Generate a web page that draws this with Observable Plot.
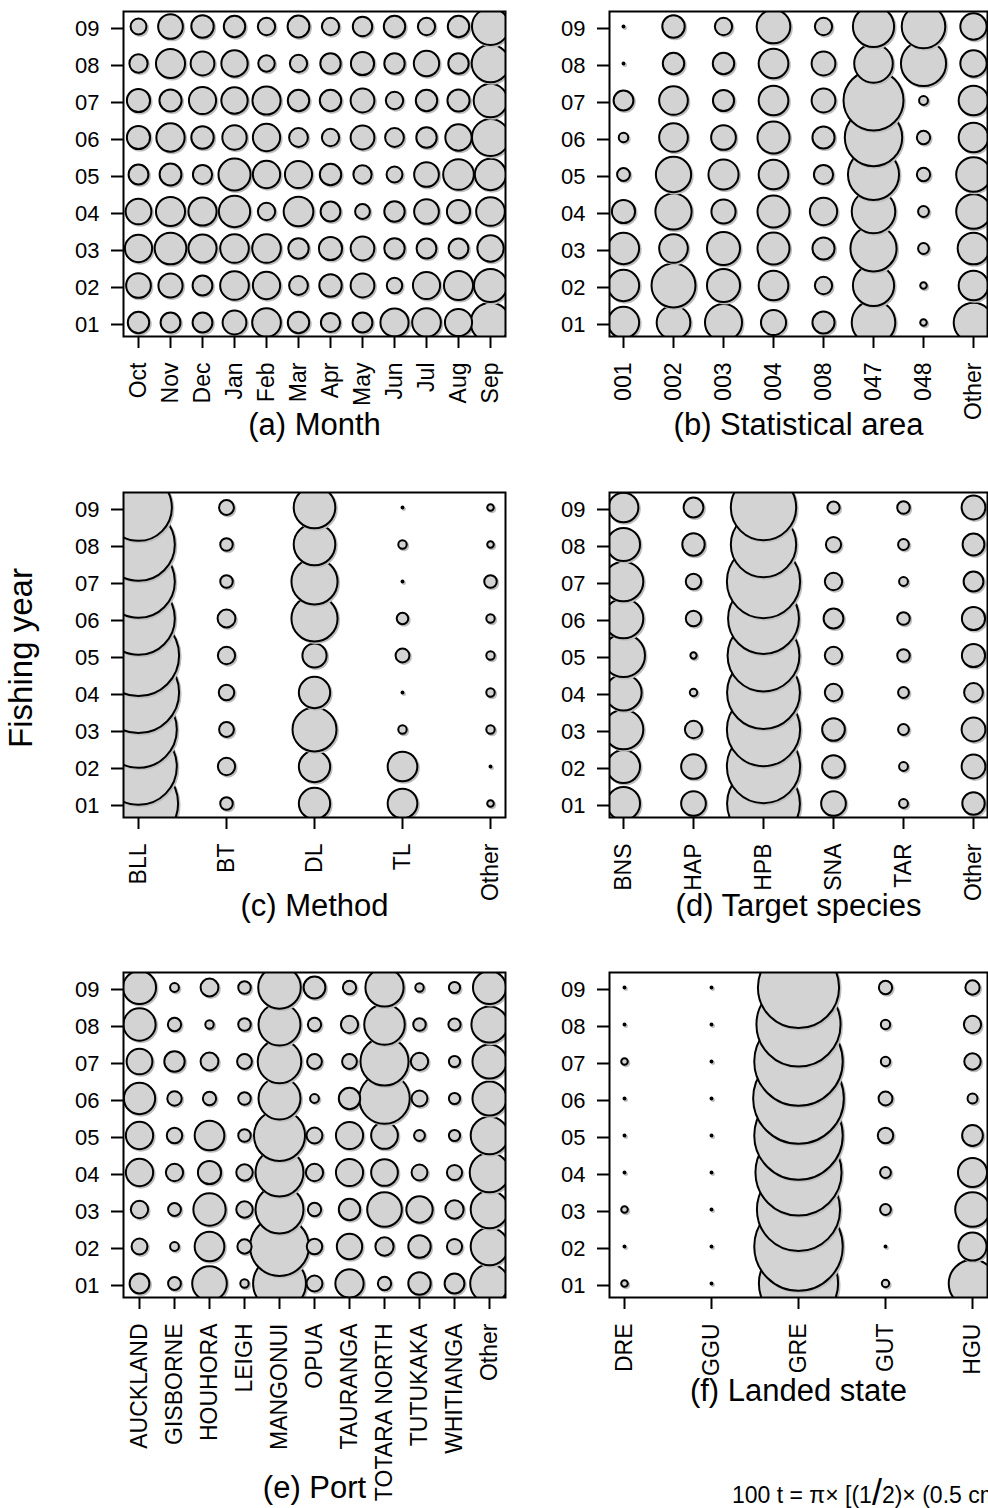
<!DOCTYPE html>
<html>
<head>
<meta charset="utf-8">
<script src="https://cdn.jsdelivr.net/npm/d3@7"></script>
<script src="https://cdn.jsdelivr.net/npm/@observablehq/plot@0.6"></script>
<style>
  html, body { margin: 0; padding: 0; background: #fff; }
  body { width: 988px; height: 1508px; overflow: hidden; position: relative; font-family: "Liberation Sans", Arial, sans-serif; }
  .panel { position: absolute; }
  #overlay { position: absolute; left: 0; top: 0; pointer-events: none; }
</style>
</head>
<body>
<script>
// Fishing years (y axis, bottom to top)
const years = ["01","02","03","04","05","06","07","08","09"];

// (a) Month — catch by month, one row per month, values for years 01..09
const months = ["Oct","Nov","Dec","Jan","Feb","Mar","Apr","May","Jun","Jul","Aug","Sep"];
const monthCatch = [
  [117,156,190,169,100,137,137,85,64],
  [100,149,256,216,121,204,125,216,156],
  [100,100,202,202,94,128,188,144,128],
  [144,210,210,250,262,151,177,177,117],
  [210,190,210,77,190,190,202,69,77],
  [117,90,106,225,188,90,117,76,121],
  [94,128,137,100,117,76,117,106,76],
  [100,144,144,56,85,144,144,137,96],
  [202,61,106,106,64,90,77,106,117],
  [210,188,100,156,156,106,117,164,76],
  [188,216,100,137,240,177,125,106,117],
  [400,279,177,210,250,350,289,361,350]
];

// (b) Statistical area
const areas = ["001","002","003","004","008","047","048","Other"];
const areaCatch = [
  [250,250,250,137,42,23,100,1,1],
  [289,493,210,335,317,210,210,117,128],
  [350,279,279,149,231,156,114,117,76],
  [161,225,262,262,225,262,225,225,289],
  [125,76,125,190,94,125,144,144,76],
  [484,433,543,484,666,841,918,380,433],
  [11,11,30,30,45,45,20,520,484],
  [400,225,256,306,306,225,225,177,177]
];

// (c) Method
const methods = ["BLL","BT","DL","TL","Other"];
const methodCatch = [
  [1600,1498,1498,1681,1681,1347,1347,1347,1136],
  [40,76,56,61,76,81,40,40,56],
  [250,250,493,250,149,543,543,441,441],
  [225,225,18,1,49,34,1,18,1],
  [11,1,18,18,18,18,40,11,11]
];

// (d) Target species
const targets = ["BNS","HAP","HPB","SNA","TAR","Other"];
const targetCatch = [
  [279,279,400,335,471,400,400,279,225],
  [156,156,76,14,10,61,61,128,100],
  [1354,1369,1369,1354,1318,1282,1369,1089,1089],
  [156,132,132,77,77,100,77,59,38],
  [20,20,30,30,40,40,20,30,40],
  [128,144,144,90,137,137,100,121,144]
];

// (e) Port
const ports = ["AUCKLAND","GISBORNE","HOUHORA","LEIGH","MANGONUI","OPUA","TAURANGA","TOTARA NORTH","TUTUKAKA","WHITIANGA","Other"];
const portCatch = [
  [100,64,77,190,190,250,169,266,279],
  [42,20,42,76,61,53,106,45,20],
  [306,225,266,137,225,45,81,18,81],
  [18,52,69,69,40,40,56,40,40],
  [713,882,586,586,666,449,484,449,462],
  [64,61,45,76,64,20,56,45,121],
  [204,164,117,188,188,117,56,76,45],
  [45,85,306,182,182,650,590,420,372],
  [128,128,177,64,30,64,77,40,18],
  [100,59,85,59,32,32,32,38,32],
  [380,361,361,400,361,296,296,335,279]
];

// (f) Landed state
const states = ["DRE","GGU","GRE","GUT","HGU"];
const stateCatch = [
  [11,1,11,1,1,1,11,1,1],
  [1,1,1,1,1,1,1,1,1],
  [1600,1998,1764,1892,1998,2098,1998,1806,1681],
  [14,1,30,30,61,49,22,22,45],
  [576,202,306,216,110,25,69,76,52]
];

const FONT = "'Liberation Sans', Arial, sans-serif";

function panel({cats, vals, title, titleDy, left, top, width, height, mLeft, mRight, mBottom}) {
  const data = [];
  cats.forEach((c, i) => years.forEach((y, j) => data.push({cat: c, year: y, v: vals[i][j]})));
  const n = cats.length;
  const circleMarks = years.flatMap(yr => {
    const sub = data.filter(d => d.year === yr);
    return [
      Plot.dot(sub, {x: "cat", y: "year", r: "v", fill: "#bebebe", stroke: "#bebebe", strokeWidth: 2, dx: 1.5, dy: 1.5, clip: true}),
      Plot.dot(sub, {x: "cat", y: "year", r: "v", fill: "#d3d3d3", stroke: "black", strokeWidth: 2, clip: true})
    ];
  });
  const chart = Plot.plot({
    width, height,
    marginLeft: mLeft, marginRight: mRight, marginTop: 11, marginBottom: mBottom,
    style: {fontFamily: FONT, fontSize: "22px", background: "transparent", color: "black"},
    x: {type: "point", domain: cats, padding: 0.04 * (n - 1)},
    y: {type: "point", domain: years, reverse: true, padding: 0.32},
    r: {type: "sqrt", domain: [0, 10000], range: [0, 99]},
    marks: [
      ...circleMarks,
      Plot.frame({stroke: "black", strokeWidth: 2}),
      Plot.axisX({label: null, tickRotate: -90, tickSize: 12, tickPadding: 14, strokeWidth: 2, fontSize: 23}),
      Plot.axisY({label: null, tickSize: 12, tickPadding: 12, strokeWidth: 2, fontSize: 22, dy: 2}),
      Plot.text([title], {text: d => d, frameAnchor: "bottom", dy: titleDy, fontSize: 31})
    ]
  });
  chart.classList.add("panel");
  chart.style.left = left + "px";
  chart.style.top = top + "px";
  document.body.appendChild(chart);
}

const L = {left: 0, width: 520, mLeft: 123, mRight: 15};
const R = {left: 520, width: 468, mLeft: 89, mRight: 1};

panel({cats: months, vals: monthCatch, title: "(a) Month", titleDy: 98, top: 0, height: 481, mBottom: 145, ...L});
panel({cats: areas, vals: areaCatch, title: "(b) Statistical area", titleDy: 98, top: 0, height: 481, mBottom: 145, ...R});
panel({cats: methods, vals: methodCatch, title: "(c) Method", titleDy: 98, top: 481, height: 480, mBottom: 144, ...L});
panel({cats: targets, vals: targetCatch, title: "(d) Target species", titleDy: 98, top: 481, height: 480, mBottom: 144, ...R});
panel({cats: ports, vals: portCatch, title: "(e) Port", titleDy: 200, top: 961, height: 547, mBottom: 211, ...L});
panel({cats: states, vals: stateCatch, title: "(f) Landed state", titleDy: 103, top: 961, height: 547, mBottom: 211, ...R});

// Overlay texts: shared y label and the size key
const ns = "http://www.w3.org/2000/svg";
const ov = document.createElementNS(ns, "svg");
ov.setAttribute("id", "overlay");
ov.setAttribute("width", 988);
ov.setAttribute("height", 1508);
ov.setAttribute("font-family", FONT);
ov.innerHTML = `
  <text transform="translate(32,658) rotate(-90)" text-anchor="middle" font-size="33">Fishing year</text>
  <text x="732" y="1503" font-size="23">100 t = π× [(1<tspan font-size="36" dy="2">/</tspan><tspan dy="-2">2)× (0.5 cm)]</tspan><tspan dy="-10" font-size="15">2</tspan></text>
`;
document.body.appendChild(ov);
</script>
</body>
</html>
